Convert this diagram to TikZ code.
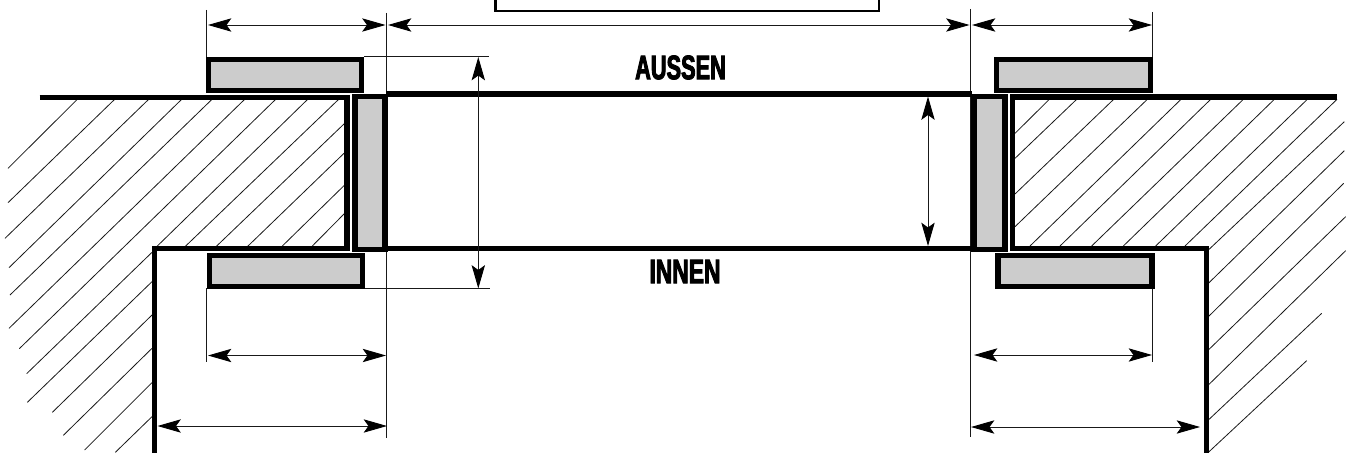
\documentclass[tikz,border=0pt]{standalone}
\usepackage{fontspec}
\setmainfont{Liberation Sans}
\newfontfamily\lblfont{Liberation Sans}[BoldFeatures={FakeBold=2.6,FakeStretch=0.64}]
\usetikzlibrary{arrows.meta}
\definecolor{panel}{HTML}{CCCCCC}
\tikzset{
  x=0.75pt,y=-0.75pt,
  wall/.style={line width=3.9pt,line cap=butt,line join=miter},
  panelbox/.style={line width=3.9pt,fill=panel,draw=black,line join=miter},
  thinline/.style={line width=0.7pt,draw=black!90},
  hatch/.style={line width=0.6pt,draw=black!90},
  dim/.style={thinline,{Stealth[length=17.5pt,width=10pt,inset=3.6pt,black]}-{Stealth[length=17.5pt,width=10pt,inset=3.6pt,black]}},
  lbl/.style={font=\lblfont\bfseries\fontsize{25.5}{26}\selectfont,inner sep=0pt}
}
% zoom-coordinate hatch segment (3x crop with x offset)
\newcommand{\hl}[5]{\draw[hatch] ({#1+#2/3},{#3/3}) -- ({#1+#4/3},{#5/3});}
\begin{document}
\begin{tikzpicture}
\useasboundingbox (0,0) rectangle (1355,453);
\clip (0,0) rectangle (1355,453);
\fill[white] (0,0) rectangle (1355,453);
% left hatch
\foreach \a/\b/\c/\d in {24/505/232/298,24/608/344/298,15/715/446/298,27/803/545/298,30/885/636/298,27/985/734/298,58/1046/827/298,
 80/1121/456/757,470/740/923/298,82/1207/456/845,555/740/1016/298,157/1237/456/945,648/740/1034/370,
 190/1306/456/1045,742/740/1034/458,254/1350/456/1148,845/740/1034/555,346/1357/456/1250,935/740/1034/640}
 {\hl{0}{\a}{\b}{\c}{\d}}
% right hatch
\foreach \a/\b/\c/\d in {330/400/433/298,330/475/515/298,330/582/626/298,330/680/727/298,375/738/828/298,465/738/917/298,
 560/738/1015/298,655/738/1108/298,752/738/1207/298,840/738/1296/298,910/750/1318/365,910/850/1318/452,910/950/1316/550,
 910/1050/1322/650,910/1155/1322/752,910/1260/1250/940,910/1357/1205/1082}
 {\hl{905}{\a}{\b}{\c}{\d}}
% extension lines
\draw[thinline] (206.5,10) -- (206.5,58);
\draw[thinline] (386.5,13) -- (386.5,438);
\draw[thinline] (970.5,9) -- (970.5,437);
\draw[thinline] (1152.5,12) -- (1152.5,58);
\draw[thinline] (206.5,288) -- (206.5,362);
\draw[thinline] (1152.5,288) -- (1152.5,362);
\draw[thinline] (364,56.7) -- (489,56.7);
\draw[thinline] (365,288) -- (490,288);
% building walls
\draw[wall] (39.5,97.5) -- (347,97.5) -- (347,248.5) -- (154.5,248.5) -- (154.5,453);
\draw[wall] (1337,97) -- (1012.7,97) -- (1012.7,248.5) -- (1206.7,248.5) -- (1206.7,453);
% window opening
\draw[wall] (386,94) -- (972,94);
\draw[wall] (386,248.3) -- (972,248.3);
% panels
\draw[panelbox] (208.3,59.3) rectangle (361.7,90.3);
\draw[panelbox] (209.3,255.4) rectangle (362.7,286.3);
\draw[panelbox] (355,96.3) rectangle (385,249.4);
\draw[panelbox] (974,96.3) rectangle (1005,249.4);
\draw[panelbox] (996.6,59.3) rectangle (1150.7,90.3);
\draw[panelbox] (998,255.4) rectangle (1152,286.3);
% top box
\draw[line width=1.8pt,fill=white] (495.5,-5) rectangle (879,11);
% dimension arrows
\draw[dim] (208,25) -- (385.5,25);
\draw[dim] (388,25) -- (969.5,25);
\draw[dim] (972,25) -- (1152,25);
\draw[dim] (208,355.5) -- (386,355.5);
\draw[dim] (974,355) -- (1152,355);
\draw[dim] (157.5,426) -- (387,426);
\draw[dim] (971,427) -- (1200,427);
\draw[dim] (478.3,57) -- (478.3,288.5);
\draw[dim] (928,96.5) -- (928,246);
% labels
\node[lbl] (aussen) at (680.5,67.5) {AUSSEN};
\node[lbl,xscale=1.05] (innen) at (685,271.5) {INNEN};
\end{tikzpicture}
\end{document}
